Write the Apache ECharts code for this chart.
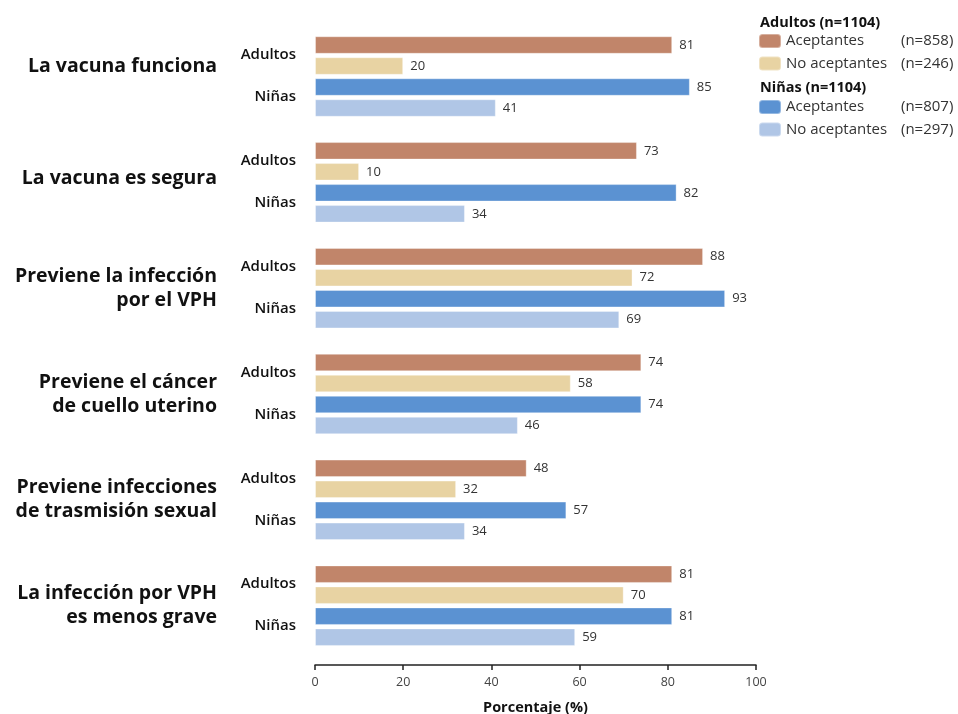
<!DOCTYPE html>
<html>
<head>
<meta charset="utf-8">
<script src="https://cdn.jsdelivr.net/npm/echarts@6/dist/echarts.min.js"></script>
<style>
  html, body { margin: 0; padding: 0; background: #fff; }
  #chart { width: 958px; height: 714px; }
</style>
</head>
<body>
<div id="chart"></div>
<script>
// Statements about the HPV vaccine
var categories = [
  'La vacuna funciona',
  'La vacuna es segura',
  'Previene la infección\npor el VPH',
  'Previene el cáncer\nde cuello uterino',
  'Previene infecciones\nde trasmisión sexual',
  'La infección por VPH\nes menos grave'
];
var groupLabels = ['Adultos', 'Niñas'];

// Percentages per group
var adultosAceptantes   = [81, 73, 88, 74, 48, 81];
var adultosNoAceptantes = [20, 10, 72, 58, 32, 70];
var ninasAceptantes     = [85, 82, 93, 74, 57, 81];
var ninasNoAceptantes   = [41, 34, 69, 46, 34, 59];

var xTicks = [0, 20, 40, 60, 80, 100];

var seriesNames = ['Adultos Aceptantes', 'Adultos No aceptantes', 'Niñas Aceptantes', 'Niñas No aceptantes'];
var legendText = {
  'Adultos Aceptantes': ['Aceptantes', '(n=858)'],
  'Adultos No aceptantes': ['No aceptantes', '(n=246)'],
  'Niñas Aceptantes': ['Aceptantes', '(n=807)'],
  'Niñas No aceptantes': ['No aceptantes', '(n=297)']
};
var colors = ['#C1856A', '#E8D3A3', '#5B92D2', '#B0C6E6'];
var seriesData = [adultosAceptantes, adultosNoAceptantes, ninasAceptantes, ninasNoAceptantes];

var FONT = 'Open Sans';

// sub-row labels: Adultos / Niñas for every statement
var subRows = [];
categories.forEach(function () { subRows.push(groupLabels[0], groupLabels[1]); });

var chart = echarts.init(document.getElementById('chart'));

var legendRich = {
  a: { fontFamily: FONT, fontSize: 15, color: '#333', width: 115 },
  b: { fontFamily: FONT, fontSize: 15, color: '#333' }
};
function legendFormatter(name) {
  var t = legendText[name];
  return '{a|' + t[0] + '}{b|' + t[1] + '}';
}

chart.setOption({
  animation: false,
  textStyle: { fontFamily: FONT },
  title: [
    { text: 'Adultos (n=1104)', left: 760, top: 15, padding: 0,
      textStyle: { fontFamily: FONT, fontSize: 14.5, fontWeight: 'bold', color: '#111' } },
    { text: 'Niñas (n=1104)', left: 760, top: 80, padding: 0,
      textStyle: { fontFamily: FONT, fontSize: 14.5, fontWeight: 'bold', color: '#111' } }
  ],
  legend: [
    { data: seriesNames.slice(0, 2), orient: 'vertical', left: 758, top: 33, padding: 0,
      itemWidth: 22, itemHeight: 14, itemGap: 6.5, itemTextGap: 4, icon: 'roundRect',
      formatter: legendFormatter, textStyle: { rich: legendRich } },
    { data: seriesNames.slice(2, 4), orient: 'vertical', left: 758, top: 99, padding: 0,
      itemWidth: 22, itemHeight: 14, itemGap: 6.5, itemTextGap: 4, icon: 'roundRect',
      formatter: legendFormatter, textStyle: { rich: legendRich } }
  ],
  grid: { left: 315, right: 202, top: 23.6, height: 635, containLabel: false, outerBoundsMode: 'none' },
  xAxis: {
    type: 'value', min: 0, max: 100, interval: 20,
    offset: 6.4,
    axisLine: { show: true, lineStyle: { color: '#222', width: 1.5 } },
    axisTick: { show: true, length: 5, lineStyle: { color: '#222', width: 1.5 } },
    axisLabel: { color: '#444', fontSize: 12.5, margin: 11, customValues: xTicks },
    splitLine: { show: false },
    name: 'Porcentaje (%)', nameLocation: 'middle', nameGap: 35,
    nameTextStyle: { fontFamily: FONT, fontSize: 14.5, fontWeight: 'bold', color: '#111' }
  },
  yAxis: [
    {
      type: 'category', data: categories, inverse: true, position: 'left',
      axisLine: { show: false }, axisTick: { show: false },
      axisLabel: {
        margin: 98,
        formatter: function (v, i) {
          if (v.indexOf('\n') >= 0) {
            return v.split('\n').map(function (s) { return '{m|' + s + '}'; }).join('\n');
          }
          return '{s' + i + '|' + v + '}';
        },
        rich: {
          m: { fontFamily: FONT, fontSize: 19.5, fontWeight: 'bold', color: '#111', lineHeight: 24 },
          s0: { fontFamily: FONT, fontSize: 19.5, fontWeight: 'bold', color: '#111', lineHeight: 24, padding: [0, 0, 20, 0] },
          s1: { fontFamily: FONT, fontSize: 19.5, fontWeight: 'bold', color: '#111', lineHeight: 24, padding: [0, 0, 8, 0] }
        }
      }
    },
    {
      type: 'category', data: subRows, inverse: true, position: 'left', offset: 0,
      axisLine: { show: false }, axisTick: { show: false },
      axisLabel: {
        margin: 19,
        formatter: function (v) { return v === 'Adultos' ? '{a|' + v + '}' : '{n|' + v + '}'; },
        rich: {
          a: { fontFamily: FONT, fontSize: 15, fontWeight: 600, color: '#111', padding: [10, 0, 0, 0] },
          n: { fontFamily: FONT, fontSize: 15, fontWeight: 600, color: '#111', padding: [0, 0, 12, 0] }
        }
      }
    }
  ],
  series: seriesData.map(function (d, k) {
    return {
      name: seriesNames[k], type: 'bar', yAxisIndex: 0,
      data: d,
      barWidth: 17.5, barGap: '20%',
      itemStyle: { color: colors[k], borderColor: 'rgba(255,255,255,0.35)', borderWidth: 1 },
      label: { show: true, position: 'right', distance: 7, color: '#333', fontSize: 13, fontFamily: FONT }
    };
  })
});
</script>
</body>
</html>
